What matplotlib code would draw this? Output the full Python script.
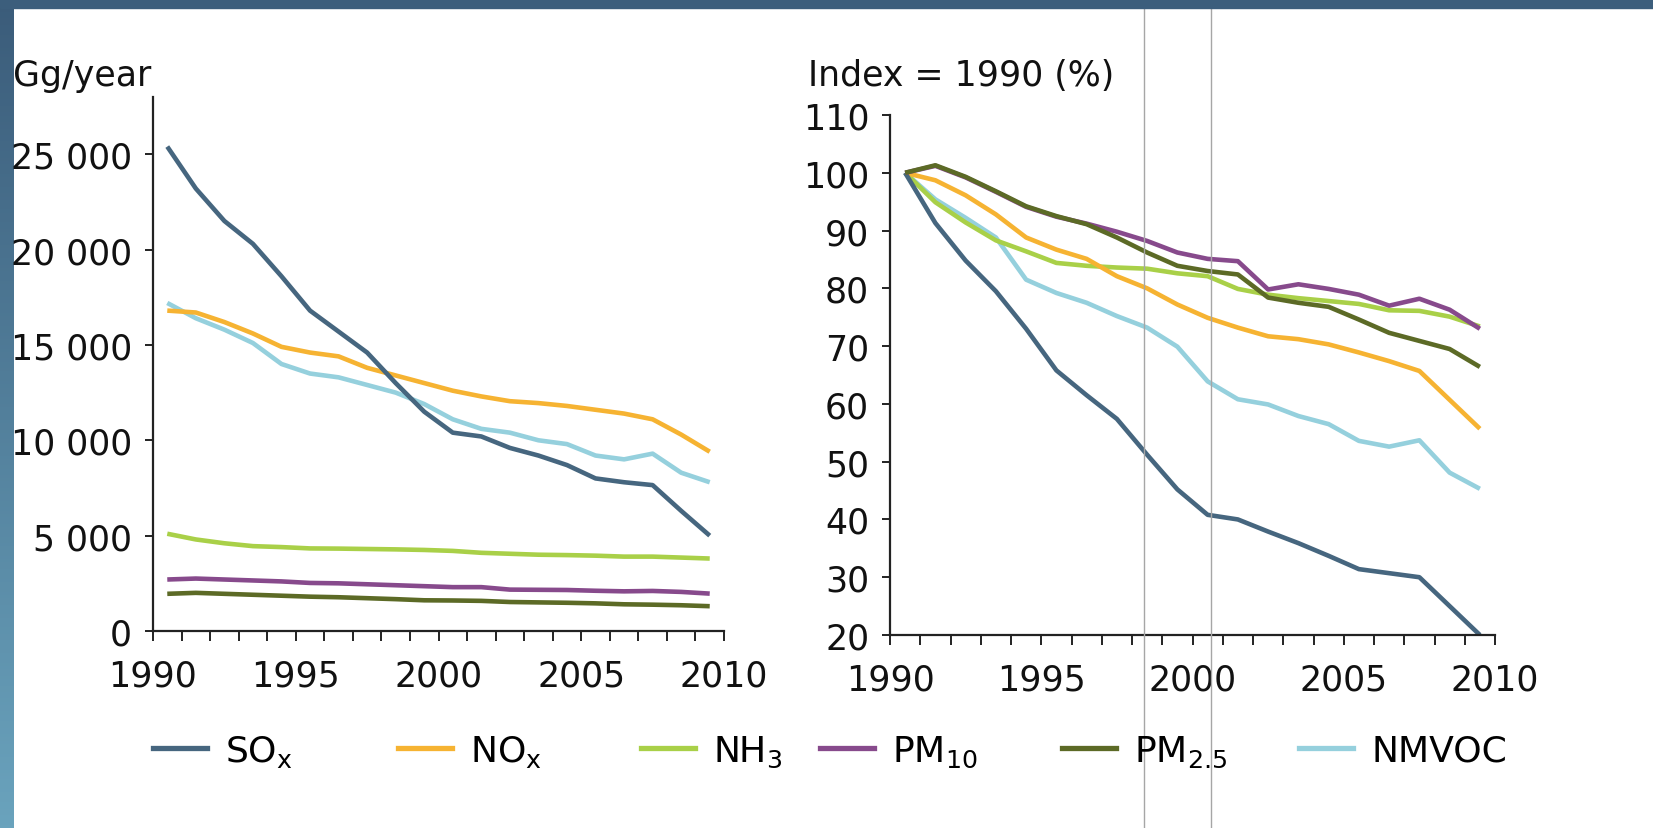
import numpy as np
import matplotlib
matplotlib.use('Agg')
import matplotlib.pyplot as plt
from matplotlib.lines import Line2D
from matplotlib.patches import Rectangle
from matplotlib.colors import LinearSegmentedColormap
from matplotlib.ticker import FuncFormatter

# Data (years 1990-2009, plotted mid-year)
years = list(range(1990, 2010))
labels = ['SO$_\\mathregular{x}$', 'NO$_\\mathregular{x}$', 'NH$_\\mathregular{3}$',
          'PM$_\\mathregular{10}$', 'PM$_\\mathregular{2.5}$', 'NMVOC']
colors = ['#46667f', '#f6b332', '#a9d048', '#874a8c', '#5c6a26', '#95d0dd']

# Gg/year
sox_gg = [25400, 23200, 21500, 20300, 18600, 16800, 15700, 14600, 13000, 11500,
          10400, 10200, 9600, 9200, 8700, 8000, 7800, 7650, 6300, 5000]
nox_gg = [16800, 16700, 16200, 15600, 14900, 14600, 14400, 13800, 13400, 13000,
          12600, 12300, 12050, 11950, 11800, 11600, 11400, 11100, 10300, 9400]
nh3_gg = [5100, 4800, 4600, 4450, 4400, 4330, 4320, 4300, 4280, 4250,
          4200, 4100, 4050, 4000, 3980, 3950, 3900, 3900, 3850, 3800]
pm10_gg = [2700, 2750, 2700, 2650, 2600, 2520, 2500, 2450, 2400, 2350,
           2300, 2300, 2170, 2160, 2150, 2110, 2080, 2100, 2050, 1960]
pm25_gg = [1950, 2000, 1950, 1900, 1850, 1800, 1770, 1720, 1670, 1610,
           1600, 1580, 1520, 1500, 1480, 1450, 1400, 1380, 1350, 1300]
nmvoc_gg = [17200, 16400, 15800, 15100, 14000, 13500, 13300, 12900, 12500, 11900,
            11100, 10600, 10400, 10000, 9800, 9200, 9000, 9300, 8300, 7800]

# Index 1990 = 100
sox_idx = [100, 91.3, 84.8, 79.5, 73.0, 65.8, 61.5, 57.4, 51.2, 45.2,
           40.8, 40.0, 37.9, 35.9, 33.7, 31.4, 30.7, 30.0, 25.0, 20.0]
nox_idx = [100, 98.7, 96.1, 92.8, 88.8, 86.7, 85.1, 82.1, 80.0, 77.2,
           74.9, 73.2, 71.7, 71.2, 70.3, 68.9, 67.4, 65.7, 60.7, 55.7]
nh3_idx = [100, 94.9, 91.4, 88.3, 86.4, 84.4, 83.9, 83.6, 83.4, 82.6,
           82.1, 79.9, 78.9, 78.3, 77.8, 77.3, 76.2, 76.1, 75.1, 73.4]
pm10_idx = [100, 101.2, 99.2, 96.7, 94.1, 92.4, 91.2, 89.8, 88.2, 86.2,
            85.1, 84.7, 79.8, 80.7, 79.9, 78.9, 77.0, 78.2, 76.3, 73.0]
pm25_idx = [100, 101.3, 99.3, 96.8, 94.2, 92.5, 91.1, 88.8, 86.2, 83.9,
            83.0, 82.4, 78.4, 77.5, 76.8, 74.6, 72.3, 70.9, 69.5, 66.4]
nmvoc_idx = [100, 95.4, 92.2, 88.8, 81.5, 79.2, 77.5, 75.2, 73.2, 69.9,
             63.9, 60.8, 59.9, 57.9, 56.5, 53.6, 52.6, 53.7, 48.1, 45.3]

series_gg = [sox_gg, nox_gg, nh3_gg, pm10_gg, pm25_gg, nmvoc_gg]
series_idx = [sox_idx, nox_idx, nh3_idx, pm10_idx, pm25_idx, nmvoc_idx]
# drawing order (bottom -> top)
draw_order = [5, 2, 1, 0, 3, 4]

plt.rcParams['font.family'] = ['DejaVu Sans']
plt.rcParams['mathtext.fontset'] = 'dejavusans'

W, H = 1653, 829
FS = 25
fig = plt.figure(figsize=(W / 100, H / 100), dpi=100)
fig.patch.set_facecolor('white')

# frame decoration: top band + left gradient band
band = fig.add_axes([0, 0, 14 / W, 1])
grad = np.linspace(0, 1, 256).reshape(-1, 1)
cmap = LinearSegmentedColormap.from_list('band', ['#3b5c7a', '#6aa3bd'])
band.imshow(grad, aspect='auto', cmap=cmap, extent=[0, 1, 0, 1])
band.axis('off')
top_h = 9
fig.add_artist(Rectangle((0, 1 - top_h / H), 1, top_h / H, transform=fig.transFigure,
                         color='#3c5e7c', zorder=5))

x = np.array(years) + 0.5
tick_years = list(range(1990, 2011))
tick_labels = [str(y) if y % 5 == 0 else '' for y in tick_years]


def style_axes(ax):
    for s in ['top', 'right']:
        ax.spines[s].set_visible(False)
    for s in ['left', 'bottom']:
        ax.spines[s].set_color('#222222')
        ax.spines[s].set_linewidth(1.6)
    ax.set_xlim(1990, 2010)
    ax.set_xticks(tick_years)
    ax.set_xticklabels(tick_labels)
    ax.tick_params(axis='x', length=7, width=1.4, pad=13, labelsize=FS,
                   color='#222222', labelcolor='#111111')
    ax.tick_params(axis='y', length=6, width=1.4, pad=9, labelsize=FS,
                   color='#222222', labelcolor='#111111')


# left panel: absolute emissions
ax1 = fig.add_axes([153 / W, (H - 632) / H, 571 / W, 534 / H])
for i in draw_order:
    ax1.plot(x, series_gg[i], color=colors[i], lw=3.3, solid_capstyle='butt')
ax1.set_ylim(0, 28000)
ax1.set_yticks(range(0, 25001, 5000))
ax1.yaxis.set_major_formatter(FuncFormatter(lambda v, p: f'{int(v):,}'.replace(',', ' ')))
style_axes(ax1)

# right panel: index 1990 = 100
ax2 = fig.add_axes([890 / W, (H - 636) / H, 605 / W, 520 / H])
for i in draw_order:
    ax2.plot(x, series_idx[i], color=colors[i], lw=3.3, solid_capstyle='butt')
ax2.set_ylim(20, 110)
ax2.set_yticks(range(20, 111, 10))
style_axes(ax2)

fig.text(13 / W, (H - 86) / H, 'Gg/year', fontsize=FS, color='#111111', va='baseline')
fig.text(808 / W, (H - 86) / H, 'Index = 1990 (%)', fontsize=FS, color='#111111', va='baseline')

# thin grey vertical guide lines (from the original screenshot)
for xv in [1143.5, 1210.5]:
    fig.add_artist(Line2D([xv / W, xv / W], [0, 1 - top_h / H], transform=fig.transFigure,
                          color='#a6a6a6', lw=1.0, zorder=4))

# legend, one entry per slot
legend_x = [153, 398, 641, 820, 1062, 1299]
for i, lx in enumerate(legend_x):
    h = Line2D([], [], color=colors[i], lw=3.8)
    fig.legend(handles=[h], labels=[labels[i]], loc='center left',
               bbox_to_anchor=(lx / W, (H - 752) / H), frameon=False,
               fontsize=26, handlelength=1.5, handletextpad=0.5,
               borderaxespad=0, borderpad=0)

fig.savefig('out.png', dpi=100, facecolor='white')
